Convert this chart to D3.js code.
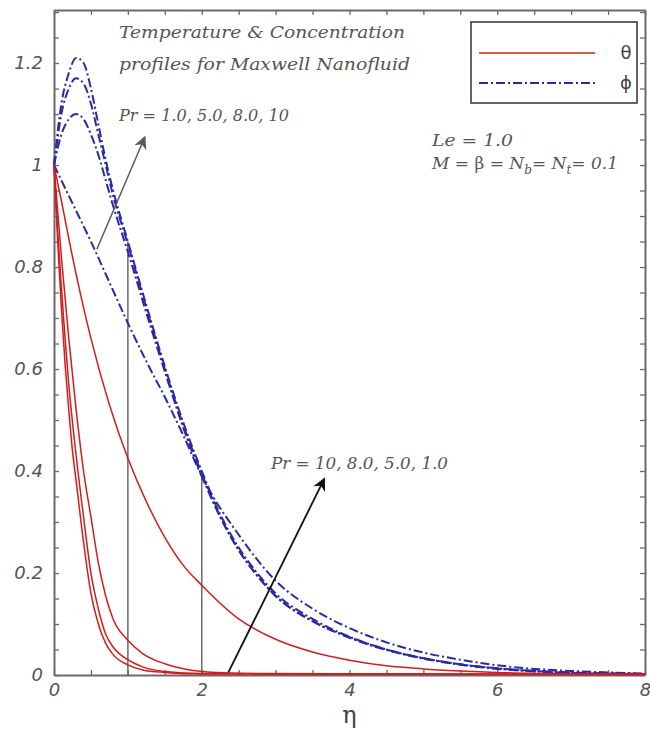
<!DOCTYPE html>
<html lang="en">
  <head>
    <meta charset="utf-8">
    <title>Temperature & Concentration profiles</title>
    <script src="https://d3js.org/d3.v7.js"></script>
    <style>
      body { margin: 0; background: white; }
    </style>
  </head>

  <body>

  <script>

// data: [eta, value]

  const thetaPr1 = [[0,1],[0.1,0.93],[0.25,0.82],[0.5,0.66],[0.75,0.53],[1,0.425],[1.25,0.34],[1.5,0.27],
    [1.75,0.215],[2,0.176],[2.5,0.11],[3,0.07],[3.5,0.045],[4,0.029],[4.5,0.018],[5,0.012],[5.5,0.008],
    [6,0.005],[7,0.002],[8,0.001]];
  const thetaPr5 = [[0,1],[0.1,0.82],[0.2,0.66],[0.3,0.52],[0.4,0.4],[0.5,0.31],[0.6,0.22],[0.7,0.155],
    [0.8,0.11],[1,0.068],[1.2,0.042],[1.5,0.022],[1.8,0.011],[2.2,0.005],[3,0.002],[8,0.001]];
  const thetaPr8 = [[0,1],[0.05,0.87],[0.1,0.76],[0.15,0.66],[0.2,0.57],[0.3,0.43],[0.4,0.31],[0.5,0.2],
    [0.6,0.13],[0.7,0.08],[0.8,0.055],[1,0.03],[1.2,0.016],[1.5,0.007],[2,0.003],[8,0.001]];
  const thetaPr10 = [[0,1],[0.05,0.85],[0.1,0.72],[0.15,0.61],[0.2,0.52],[0.25,0.44],[0.3,0.38],[0.4,0.26],
    [0.5,0.16],[0.6,0.1],[0.7,0.062],[0.8,0.04],[1,0.02],[1.2,0.01],[1.5,0.005],[2,0.002],[8,0.001]];

  const phiPr1 = [[0,1],[0.25,0.925],[0.5,0.85],[0.75,0.77],[1,0.69],[1.25,0.615],[1.5,0.545],[1.75,0.47],
    [2,0.39],[2.5,0.275],[3,0.185],[3.5,0.13],[4,0.092],[4.5,0.064],[5,0.044],[5.5,0.03],[6,0.019],
    [6.5,0.012],[7,0.008],[8,0.003]];
  const phiPr5 = [[0,1],[0.1,1.06],[0.2,1.09],[0.3,1.1],[0.4,1.09],[0.5,1.06],[0.6,1.02],[0.7,0.97],
    [0.8,0.92],[1,0.83],[1.25,0.71],[1.5,0.595],[1.75,0.485],[2,0.39],[2.25,0.31],[2.5,0.245],[2.75,0.195],
    [3,0.155],[3.5,0.105],[4,0.074],[4.5,0.05],[5,0.033],[5.5,0.021],[6,0.013],[6.5,0.008],[7,0.005],[8,0.002]];
  const phiPr8 = [[0,1],[0.1,1.1],[0.2,1.15],[0.3,1.17],[0.4,1.16],[0.5,1.12],[0.6,1.06],[0.7,1.0],
    [0.8,0.94],[1,0.845],[1.25,0.72],[1.5,0.6],[1.75,0.49],[2,0.395],[2.25,0.31],[2.5,0.245],[2.75,0.195],
    [3,0.155],[3.5,0.106],[4,0.073],[4.5,0.049],[5,0.032],[5.5,0.02],[6,0.012],[6.5,0.007],[7,0.004],[8,0.002]];
  const phiPr10 = [[0,1],[0.1,1.12],[0.2,1.18],[0.3,1.21],[0.4,1.2],[0.5,1.15],[0.6,1.08],[0.7,1.01],
    [0.8,0.95],[1,0.85],[1.25,0.725],[1.5,0.605],[1.75,0.495],[2,0.4],[2.25,0.315],[2.5,0.25],[2.75,0.2],
    [3,0.16],[3.5,0.11],[4,0.075],[4.5,0.05],[5,0.033],[5.5,0.021],[6,0.013],[6.5,0.008],[7,0.004],[8,0.002]];

  const thetaSeries = [thetaPr1, thetaPr5, thetaPr8, thetaPr10];
  const phiSeries = [phiPr1, phiPr5, phiPr8, phiPr10];

  // guide lines and arrows, in data units
  const guideLines = [[1, 0.85], [2, 0.40]];
  const arrowUp = [[0.58, 0.835], [1.23, 1.055]];
  const arrowDown = [[2.36, 0.005], [3.66, 0.385]];

  const xLabels = [0, 2, 4, 6, 8];
  const yLabels = [0, 0.2, 0.4, 0.6, 0.8, 1, 1.2];

// scales

  const w = 650;
  const h = 729;
  const plot = {left: 54, right: 645, top: 10, bottom: 675};

  const xScale = d3.scaleLinear()
      .domain([0, 8])
      .range([plot.left, plot.right]);

  const yScale = d3.scaleLinear()
      .domain([0, 1.304])
      .range([plot.bottom, plot.top]);

  const svg = d3.select("body")
    .append("svg")
      .attr("width", w)
      .attr("height", h);

  svg.append("defs").selectAll("marker")
      .data([["headGrey", "#5a5a5a"], ["headBlack", "#111"]])
    .enter().append("marker")
      .attr("id", d => d[0])
      .attr("viewBox", "0 0 10 10")
      .attr("refX", 9)
      .attr("refY", 5)
      .attr("markerUnits", "userSpaceOnUse")
      .attr("markerWidth", 22)
      .attr("markerHeight", 13)
      .attr("orient", "auto")
    .append("path")
      .attr("d", "M0,0 L10,5 L0,10 L3,5 Z")
      .attr("fill", d => d[1]);

// axes, ticks point inward on all four sides

  const xTicks = d3.range(0, 8.001, 0.5);
  const yTicks = d3.range(0, 1.301, 0.05);
  const isLabel = (v, list) => list.some(l => Math.abs(l - v) < 1e-6);

  const xAxis = d3.axisBottom(xScale)
      .tickValues(xTicks)
      .tickSizeInner(-5)
      .tickSizeOuter(0)
      .tickPadding(8)
      .tickFormat(d => isLabel(d, xLabels) ? d3.format("~g")(d) : "");

  const yAxis = d3.axisLeft(yScale)
      .tickValues(yTicks)
      .tickSizeInner(-5)
      .tickSizeOuter(0)
      .tickPadding(11)
      .tickFormat(d => isLabel(d, yLabels) ? d3.format("~g")(d) : "");

  svg.append("g")
      .attr("transform", `translate(0, ${plot.bottom})`)
      .call(xAxis);
  svg.append("g")
      .attr("transform", `translate(0, ${plot.top})`)
      .call(d3.axisTop(xScale).tickValues(xTicks).tickSizeInner(-5).tickSizeOuter(0).tickFormat(""));
  svg.append("g")
      .attr("transform", `translate(${plot.left}, 0)`)
      .call(yAxis);
  svg.append("g")
      .attr("transform", `translate(${plot.right}, 0)`)
      .call(d3.axisRight(yScale).tickValues(yTicks).tickSizeInner(-5).tickSizeOuter(0).tickFormat(""));

  svg.selectAll(".domain").attr("stroke", "#6a6a6a").attr("stroke-width", 2);
  svg.selectAll(".tick line").attr("stroke", "#6a6a6a").attr("stroke-width", 1.3);
  svg.selectAll(".tick text")
      .attr("fill", "#555")
      .style("font-family", "'DejaVu Sans', sans-serif")
      .style("font-style", "italic")
      .style("font-size", "18px");

  // axis title
  svg.append("text")
      .attr("x", xScale(4))
      .attr("y", 723)
      .attr("text-anchor", "middle")
      .attr("fill", "#444")
      .style("font-family", "'DejaVu Serif', serif")
      .style("font-size", "24px")
      .text("η");

// guide lines at eta = 1 and 2

  svg.append("g").selectAll("line")
      .data(guideLines)
    .enter().append("line")
      .attr("x1", d => xScale(d[0]))
      .attr("x2", d => xScale(d[0]))
      .attr("y1", yScale(0))
      .attr("y2", d => yScale(d[1]))
      .attr("stroke", "#6a6a6a")
      .attr("stroke-width", 1.5);

// curves

  const line = d3.line()
      .x(d => xScale(d[0]))
      .y(d => yScale(d[1]))
      .curve(d3.curveMonotoneX);

  svg.append("g").selectAll("path")
      .data(phiSeries)
    .enter().append("path")
      .attr("d", line)
      .attr("fill", "none")
      .attr("stroke", "#2a2aa8")
      .attr("stroke-width", 2)
      .attr("stroke-dasharray", "9,3,2,3");

  svg.append("g").selectAll("path")
      .data(thetaSeries)
    .enter().append("path")
      .attr("d", line)
      .attr("fill", "none")
      .attr("stroke", "#d41c1c")
      .attr("stroke-width", 1.5);

// arrows

  svg.append("line")
      .attr("x1", xScale(arrowUp[0][0])).attr("y1", yScale(arrowUp[0][1]))
      .attr("x2", xScale(arrowUp[1][0])).attr("y2", yScale(arrowUp[1][1]))
      .attr("stroke", "#5a5a5a")
      .attr("stroke-width", 1.5)
      .attr("marker-end", "url(#headGrey)");

  svg.append("line")
      .attr("x1", xScale(arrowDown[0][0])).attr("y1", yScale(arrowDown[0][1]))
      .attr("x2", xScale(arrowDown[1][0])).attr("y2", yScale(arrowDown[1][1]))
      .attr("stroke", "#111")
      .attr("stroke-width", 1.8)
      .attr("marker-end", "url(#headBlack)");

// annotations

  const note = (x, y, str, len) => svg.append("text")
      .attr("x", x)
      .attr("y", y)
      .attr("textLength", len)
      .attr("lengthAdjust", "spacingAndGlyphs")
      .attr("fill", "#555")
      .style("font-family", "'DejaVu Serif', serif")
      .style("font-style", "italic")
      .style("font-size", "17px")
      .text(str);

  note(119, 38, "Temperature & Concentration", 286);
  note(119, 70, "profiles for Maxwell Nanofluid", 291);
  note(119, 121, "Pr = 1.0, 5.0, 8.0, 10", 170);
  note(271, 469, "Pr = 10, 8.0, 5.0, 1.0", 177);
  note(432, 146, "Le = 1.0", 81);

  const params = svg.append("text")
      .attr("x", 432)
      .attr("y", 169)
      .attr("fill", "#555")
      .style("font-family", "'DejaVu Serif', serif")
      .style("font-style", "italic")
      .style("font-size", "17px");
  params.append("tspan").text("M = ");
  params.append("tspan").style("font-style", "normal").text("β");
  params.append("tspan").text(" = N");
  params.append("tspan").attr("dy", 5).style("font-size", "12px").text("b");
  params.append("tspan").attr("dy", -5).text("= N");
  params.append("tspan").attr("dy", 5).style("font-size", "12px").text("t");
  params.append("tspan").attr("dy", -5).text("= 0.1");

// legend

  const legend = svg.append("g");
  legend.append("rect")
      .attr("x", 471).attr("y", 22)
      .attr("width", 166).attr("height", 81)
      .attr("fill", "white")
      .attr("stroke", "#333")
      .attr("stroke-width", 1.5);

  const legendItems = [["θ", "#d41c1c", null, 53], ["ϕ", "#2a2aa8", "9,3,2,3", 83]];
  legendItems.forEach(d => {
    legend.append("line")
        .attr("x1", 479).attr("x2", 595)
        .attr("y1", d[3]).attr("y2", d[3])
        .attr("stroke", d[1])
        .attr("stroke-width", d[2] ? 2 : 1.5)
        .attr("stroke-dasharray", d[2]);
    legend.append("text")
        .attr("x", 626).attr("y", d[3] + 6)
        .attr("text-anchor", "middle")
        .attr("fill", "#444")
        .style("font-family", "'DejaVu Sans', sans-serif")
        .style("font-size", "18px")
        .text(d[0]);
  });

  </script>

  </body>

</html>
